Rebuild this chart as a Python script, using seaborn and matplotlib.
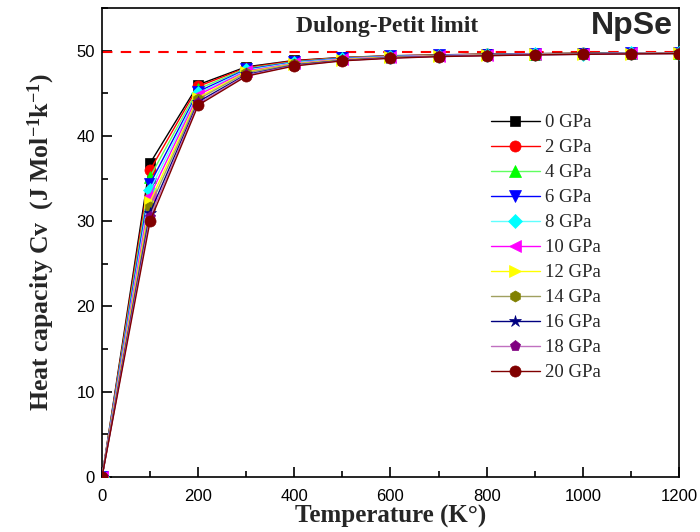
import matplotlib
matplotlib.use("Agg")
import matplotlib.pyplot as plt
import seaborn as sns
import pandas as pd
import numpy as np
from matplotlib.ticker import MultipleLocator

temperature = [0, 100, 200, 300, 400, 500, 600, 700, 800, 900, 1000, 1100, 1200]
pressures = ["0 GPa", "2 GPa", "4 GPa", "6 GPa", "8 GPa", "10 GPa", "12 GPa",
             "14 GPa", "16 GPa", "18 GPa", "20 GPa"]
cv_0 = [0, 36.8, 46.0, 48.1, 48.85, 49.2, 49.4, 49.5, 49.6, 49.65, 49.7, 49.72, 49.75]
cv_2 = [0, 36.0, 45.8, 48.0, 48.8, 49.18, 49.38, 49.48, 49.58, 49.63, 49.68, 49.71, 49.74]
cv_4 = [0, 35.2, 45.5, 47.9, 48.7, 49.15, 49.35, 49.46, 49.56, 49.62, 49.67, 49.70, 49.73]
cv_6 = [0, 34.4, 45.2, 47.8, 48.65, 49.1, 49.32, 49.44, 49.54, 49.6, 49.65, 49.69, 49.72]
cv_8 = [0, 33.7, 45.0, 47.7, 48.6, 49.05, 49.3, 49.42, 49.52, 49.58, 49.64, 49.68, 49.71]
cv_10 = [0, 33.0, 44.8, 47.6, 48.5, 49.0, 49.27, 49.4, 49.5, 49.57, 49.62, 49.67, 49.70]
cv_12 = [0, 32.3, 44.5, 47.5, 48.45, 48.95, 49.24, 49.38, 49.48, 49.55, 49.61, 49.66, 49.69]
cv_14 = [0, 31.7, 44.3, 47.4, 48.4, 48.9, 49.2, 49.36, 49.46, 49.54, 49.6, 49.65, 49.68]
cv_16 = [0, 31.0, 44.0, 47.2, 48.3, 48.85, 49.17, 49.34, 49.44, 49.52, 49.58, 49.64, 49.67]
cv_18 = [0, 30.5, 43.8, 47.1, 48.25, 48.82, 49.14, 49.32, 49.42, 49.51, 49.57, 49.63, 49.66]
cv_20 = [0, 30.0, 43.6, 47.0, 48.2, 48.8, 49.1, 49.3, 49.4, 49.5, 49.56, 49.62, 49.65]
dulong_petit = 49.88

series = [cv_0, cv_2, cv_4, cv_6, cv_8, cv_10, cv_12, cv_14, cv_16, cv_18, cv_20]
colors = ["#000000", "#ff0000", "#00ff00", "#0000ff", "#00ffff", "#ff00ff",
          "#ffff00", "#808000", "#000080", "#800080", "#800000"]
line_colors = ["#000000", "#ff0000", "#60ff60", "#0000ff", "#60ffff", "#ff00ff",
               "#ffff00", "#a0a060", "#000080", "#c070c0", "#800000"]
markers = ["s", "o", "^", "v", "D", "<", ">", "h", "*", "p", "o"]
msizes = [7, 8, 8, 8, 7, 8, 8, 8, 9, 8, 8]

rows = []
for p, vals in zip(pressures, series):
    for t, v in zip(temperature, vals):
        rows.append({"T": t, "Cv": v, "P": p})
df = pd.DataFrame(rows)

sns.set_theme(style="white")
plt.rcParams["mathtext.fontset"] = "custom"
plt.rcParams["mathtext.rm"] = "Liberation Serif:bold"
plt.rcParams["mathtext.bf"] = "Liberation Serif:bold"
plt.rcParams["mathtext.it"] = "Liberation Serif:bold"

fig = plt.figure(figsize=(7, 5.32), dpi=100)
ax = fig.add_axes([0.1457, 0.1034, 0.8243, 0.8816])

for i, p in enumerate(pressures):
    sub = df[df["P"] == p]
    sns.lineplot(data=sub, x="T", y="Cv", ax=ax, color=line_colors[i], lw=1.0,
                 marker=markers[i], markersize=msizes[i], markerfacecolor=colors[i],
                 markeredgecolor=colors[i], markeredgewidth=0.5, label=p,
                 legend=False, zorder=3 + i)

ax.axhline(dulong_petit, color="#ff0000", ls=(0, (5, 4)), lw=1.5, zorder=2)

ax.set_xlim(0, 1200)
ax.set_ylim(0, 55)
ax.xaxis.set_major_locator(MultipleLocator(200))
ax.xaxis.set_minor_locator(MultipleLocator(100))
ax.yaxis.set_major_locator(MultipleLocator(10))
ax.yaxis.set_minor_locator(MultipleLocator(5))
ax.tick_params(which="both", direction="in", bottom=True, left=True, top=False, right=False,
               colors="black", width=1.2)
ax.tick_params(which="major", length=7, labelsize=12, pad=5)
ax.tick_params(axis="x", which="major", pad=9)
ax.tick_params(which="minor", length=4)
for lab in ax.get_xticklabels() + ax.get_yticklabels():
    lab.set_family("Liberation Sans")
for s in ax.spines.values():
    s.set_color("black")
    s.set_linewidth(1.2)

ax.set_xlabel("Temperature (K°)", family="Liberation Serif", fontweight="bold",
              fontsize=18, labelpad=0)
ax.set_ylabel("Heat capacity Cv  (J Mol$^{\\mathbf{-1}}$k$^{\\mathbf{-1}}$)",
              family="Liberation Serif", fontweight="bold", fontsize=18.5, labelpad=14)

ax.text(0.494, 0.96, "Dulong-Petit limit", transform=ax.transAxes, ha="center",
        va="center", family="Liberation Serif", fontweight="bold", fontsize=17)
ax.text(0.99, 0.962, "NpSe", transform=ax.transAxes, ha="right", va="center",
        family="Liberation Sans", fontweight="bold", fontsize=23)

handles, labels = ax.get_legend_handles_labels()
leg = ax.legend(handles, labels, loc="upper left", bbox_to_anchor=(0.645, 0.81),
                frameon=False, prop={"family": "Liberation Serif", "size": 13.5},
                handlelength=2.6, labelspacing=0.42, handletextpad=0.3)

fig.savefig("out.png", dpi=100)
